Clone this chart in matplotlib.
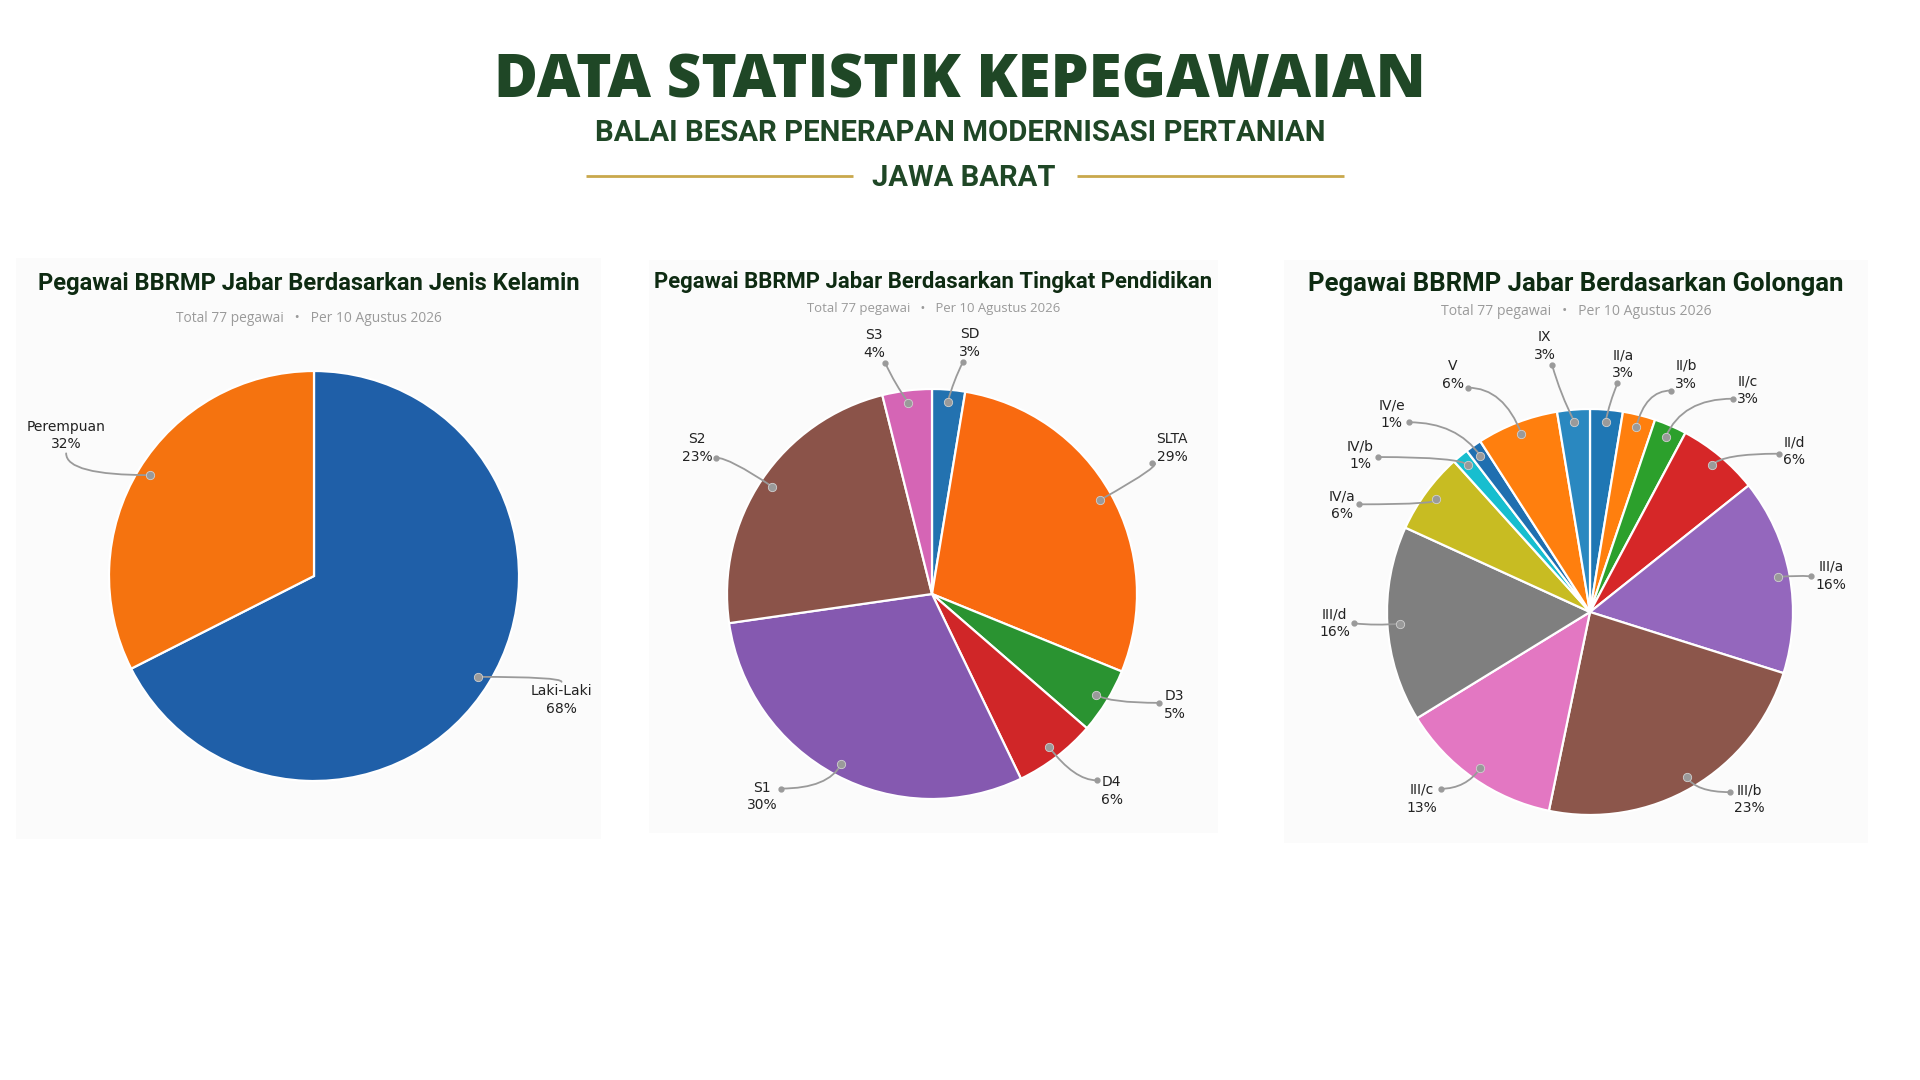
import numpy as np
import matplotlib
matplotlib.use('Agg')
import matplotlib.pyplot as plt
from matplotlib.patches import Rectangle

# ---- data ----
subtitle_note = "Total 77 pegawai   \u2022   Per 10 Agustus 2026"

gender_labels = ['Laki-Laki', 'Perempuan']
gender_counts = [52, 25]
gender_colors = ['#1f5fa8', '#f5730f']

edu_labels = ['SD', 'SLTA', 'D3', 'D4', 'S1', 'S2', 'S3']
edu_counts = [2, 22, 4, 5, 23, 18, 3]
edu_colors = ['#2372b0', '#f96a10', '#2a9331', '#d02628', '#8559b0', '#8b5349', '#d565b5']

gol_labels = ['II/a', 'II/b', 'II/c', 'II/d', 'III/a', 'III/b', 'III/c', 'III/d',
              'IV/a', 'IV/b', 'IV/e', 'V', 'IX']
gol_counts = [2, 2, 2, 5, 12, 18, 10, 12, 5, 1, 1, 5, 2]
gol_colors = ['#1f77b4', '#ff7f0e', '#2ca02c', '#d62728', '#9467bd', '#8c564b', '#e377c2',
              '#7f7f7f', '#c8bc22', '#17becf', '#1f6fb0', '#ff7f0e', '#2a88c0']

# label placement tweaks: (angle shift from slice middle, distance as fraction of radius)
gender_nudge = {'Laki-Laki': (5, 1.35), 'Perempuan': (2, 1.39)}
edu_nudge = {'SD': (-4, 1.24), 'SLTA': (2, 1.37), 'D3': (7, 1.30), 'D4': (5, 1.30),
             'S1': (-12, 1.29), 'S2': (2, 1.35), 'S3': (6, 1.25)}
gol_nudge = {'II/a': (-3, 1.23), 'II/b': (-8, 1.26), 'II/c': (-12, 1.34), 'II/d': (-12, 1.28),
             'III/a': (-2, 1.20), 'III/b': (10, 1.21), 'III/c': (-7, 1.24), 'III/d': (-1, 1.26),
             'IV/a': (13, 1.33), 'IV/b': (16, 1.37), 'IV/e': (10, 1.38), 'V': (9, 1.35), 'IX': (5, 1.33)}

W, H = 1920, 1080
fig = plt.figure(figsize=(19.2, 10.8), dpi=100)
fig.patch.set_facecolor('white')
ax = fig.add_axes([0, 0, 1, 1])
renderer = fig.canvas.get_renderer()


def Y(y):
    # y measured from the top of the picture
    return H - y


def reset_limits():
    ax.set_xlim(0, W)
    ax.set_ylim(0, H)
    ax.axis('off')


def fit_text(x, y, s, width, **kw):
    t = ax.text(x, y, s, fontsize=20, **kw)
    w = t.get_window_extent(renderer).width
    t.set_fontsize(20 * width / w)
    return t


reset_limits()

# ---- header ----
green = '#1f4726'
fit_text(W / 2, Y(97), 'DATA STATISTIK KEPEGAWAIAN', 932, ha='center', va='baseline',
         color=green, family='Open Sans', weight='heavy')
fit_text(W / 2, Y(141), 'BALAI BESAR PENERAPAN MODERNISASI PERTANIAN', 731, ha='center',
         va='baseline', color=green, family='Roboto', weight='bold')
fit_text(964, Y(186), 'JAWA BARAT', 183, ha='center', va='baseline', color=green,
         family='Roboto', weight='bold')
ax.plot([586, 853], [Y(176), Y(176)], color='#c9a84c', lw=2, solid_capstyle='butt')
ax.plot([1077, 1344], [Y(176), Y(176)], color='#c9a84c', lw=2, solid_capstyle='butt')


def draw_panel(box, title, title_w, title_y, sub_w, sub_y, counts, labels, colors,
               center, r, nudge, simple=False, title_font='Roboto'):
    x0, y0, x1, y1 = box
    ax.add_patch(Rectangle((x0, Y(y1)), x1 - x0, y1 - y0, facecolor='#fbfbfb',
                           edgecolor='none', zorder=0))
    mx = (x0 + x1) / 2
    fit_text(mx, Y(title_y), title, title_w, ha='center', va='baseline', color='#0e2b12',
             family=title_font, weight='bold')
    fit_text(mx, Y(sub_y), subtitle_note, sub_w, ha='center', va='baseline', color='#9a9a9a',
             family='Open Sans')

    cx, cy = center[0], Y(center[1])
    wedges, _ = ax.pie(counts, colors=colors, center=(cx, cy), radius=r, startangle=90,
                       counterclock=False, wedgeprops=dict(edgecolor='white', linewidth=1.6))
    reset_limits()
    total = sum(counts)
    for w, lab, n in zip(wedges, labels, counts):
        mid = (w.theta1 + w.theta2) / 2
        dang, rf = nudge.get(lab, (0, 1.3))
        a = np.deg2rad(mid)
        ix, iy = cx + 0.94 * r * np.cos(a), cy + 0.94 * r * np.sin(a)
        b = np.deg2rad(mid + dang)
        lx, ly = cx + rf * r * np.cos(b), cy + rf * r * np.sin(b)
        t = ax.text(lx, ly, f"{lab}\n{round(100 * n / total)}%", ha='center', va='center',
                    fontsize=10, color='#222222', linespacing=1.35, family='DejaVu Sans',
                    zorder=5)
        bb = t.get_window_extent(renderer)
        hw, hh = bb.width / 2 + 4, bb.height / 2 + 3
        dx, dy = ix - lx, iy - ly
        if simple:
            ox, oy = lx, ly + np.sign(dy) * (hh - 1)
            style = 'angle3,angleA=90,angleB=0'
        else:
            sx = hw / abs(dx) if dx else np.inf
            sy = hh / abs(dy) if dy else np.inf
            s = min(sx, sy)
            ox, oy = lx + dx * s, ly + dy * s
            angA = 0 if sx < sy else 90
            if abs(np.sin(np.deg2rad(angA - mid))) < 0.25:
                style = 'arc3,rad=0.05'
            else:
                style = f'angle3,angleA={angA},angleB={mid:.1f}'
            ax.plot(ox, oy, 'o', ms=3.5, color='#9a9a9a', zorder=6)
        ax.annotate('', xy=(ix, iy), xytext=(ox, oy),
                    arrowprops=dict(arrowstyle='-', color='#9a9a9a', lw=1.3,
                                    shrinkA=0, shrinkB=0, connectionstyle=style), zorder=6)
        ax.plot(ix, iy, 'o', ms=6, color='#9a9a9a', mec='#d0d0d0', mew=0.6, zorder=7)


draw_panel((16, 258, 601, 839), 'Pegawai BBRMP Jabar Berdasarkan Jenis Kelamin', 543, 290,
           266, 322, gender_counts, gender_labels, gender_colors, (314, 576), 205,
           gender_nudge, simple=True)
draw_panel((649, 260, 1218, 833), 'Pegawai BBRMP Jabar Berdasarkan Tingkat Pendidikan', 556, 288,
           252, 312, edu_counts, edu_labels, edu_colors, (932, 594), 205, edu_nudge)
draw_panel((1284, 260, 1868, 843), 'Pegawai BBRMP Jabar Berdasarkan Golongan', 535, 291,
           270, 315, gol_counts, gol_labels, gol_colors, (1590, 612), 203, gol_nudge)

reset_limits()
fig.savefig('out.png', dpi=100, facecolor='white')
